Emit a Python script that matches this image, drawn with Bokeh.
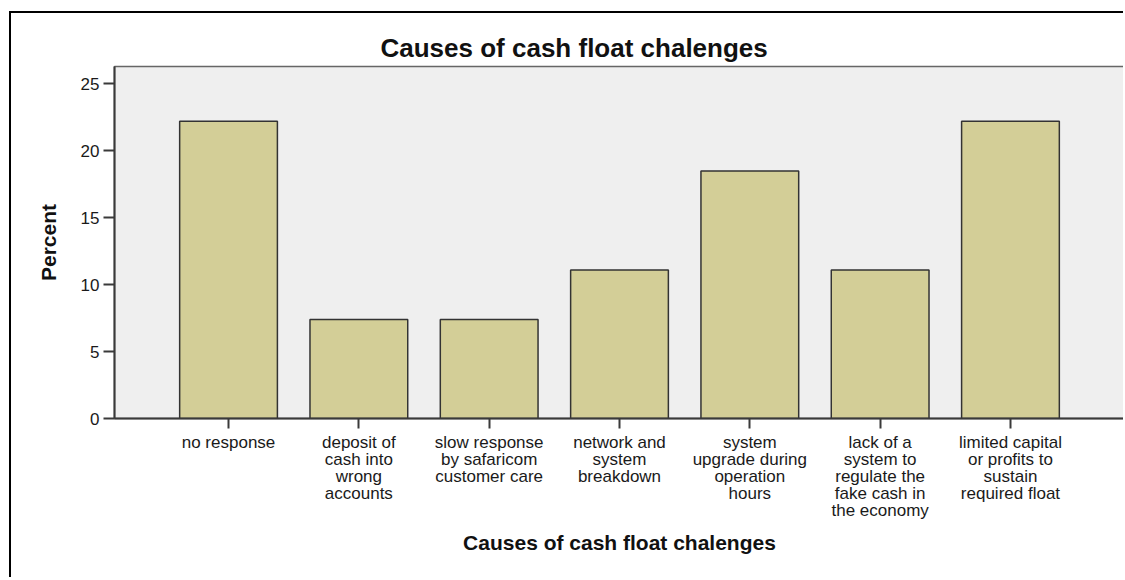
from bokeh.plotting import figure
from bokeh.models import FactorRange, Range1d, FixedTicker
from bokeh.embed import file_html
from bokeh.resources import INLINE

# ---- data ----
categories = [
    "no response",
    "deposit of\ncash into\nwrong\naccounts",
    "slow response\nby safaricom\ncustomer care",
    "network and\nsystem\nbreakdown",
    "system\nupgrade during\noperation\nhours",
    "lack of a\nsystem to\nregulate the\nfake cash in\nthe economy",
    "limited capital\nor profits to\nsustain\nrequired float",
]
percent = [22.2, 7.4, 7.4, 11.1, 18.5, 11.1, 22.2]
y_ticks = [0, 5, 10, 15, 20, 25]

FONT = "Liberation Sans"

p = figure(
    x_range=FactorRange(*categories, range_padding=0.375, range_padding_units="absolute"),
    y_range=Range1d(0, 26.3),
    width=1114, height=566,
    output_backend="svg", toolbar_location=None,
    min_border_left=103, min_border_right=1, min_border_top=53, min_border_bottom=161,
    title="Causes of cash float chalenges",
)
p.styles = {"margin-left": "9px", "margin-top": "11px",
            "border-left": "2px solid #000", "border-top": "2px solid #000"}

p.vbar(x=categories, top=percent, width=0.75,
       fill_color="#D3CE97", line_color="#333333", line_width=1.5)

p.background_fill_color = "#EFEFEF"
p.border_fill_color = "white"
p.outline_line_color = "#666666"
p.outline_line_width = 1.5
p.xgrid.visible = False
p.ygrid.visible = False

p.title.align = "left"
p.title.offset = 266
p.title.text_font = FONT
p.title.text_font_size = "26px"
p.title.text_font_style = "bold"
p.title.text_color = "#111111"
p.title.standoff = 8

p.yaxis.ticker = FixedTicker(ticks=y_ticks)
p.yaxis.minor_tick_line_color = None
p.yaxis.major_tick_in = 0
p.yaxis.major_tick_out = 11
p.yaxis.major_label_standoff = 4
p.yaxis.axis_label = "Percent"
p.yaxis.axis_label_standoff = 18

p.xaxis.major_tick_in = 0
p.xaxis.major_tick_out = 10
p.xaxis.major_label_standoff = 4
p.xaxis.major_label_text_line_height = 0.9
p.xaxis.axis_label = "Causes of cash float chalenges"
p.xaxis.axis_label_standoff = 8

for ax in (p.xaxis, p.yaxis):
    ax.axis_line_color = "#3a3a3a"
    ax.axis_line_width = 2
    ax.major_tick_line_color = "#3a3a3a"
    ax.major_tick_line_width = 2
    ax.major_label_text_font = FONT
    ax.major_label_text_font_size = "17px"
    ax.major_label_text_color = "#1a1a1a"
    ax.axis_label_text_font = FONT
    ax.axis_label_text_font_size = "21px"
    ax.axis_label_text_font_style = "bold"
    ax.axis_label_text_color = "#111111"

open("out.html", "w").write(file_html(p, INLINE))
